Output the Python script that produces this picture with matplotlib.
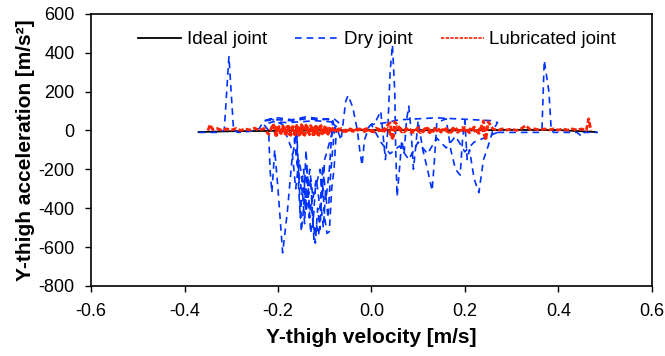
import numpy as np
import matplotlib
matplotlib.use("Agg")
import matplotlib.pyplot as plt

plt.rcParams["font.family"] = ["Liberation Sans", "DejaVu Sans"]
plt.rcParams["axes.unicode_minus"] = False

# ideal joint: nearly flat line
ideal_v = [-0.37, -0.30, -0.20, -0.10, 0.00, 0.10, 0.20, 0.30, 0.40, 0.48]
ideal_a = [-8, -4, -2, 0, 2, 2, 0, 3, 2, -8]

# dry joint trajectory
dry_v = [-0.37, -0.33, -0.315, -0.305, -0.295, -0.285, -0.26, -0.24, -0.23, -0.20,
         -0.17, -0.14, -0.11, -0.08, -0.07, -0.09, -0.12, -0.15, -0.18, -0.21,
         -0.23, -0.22, -0.217, -0.213, -0.207, -0.20, -0.19, -0.18, -0.17, -0.16,
         -0.155, -0.15, -0.145, -0.14, -0.135, -0.13, -0.125, -0.12, -0.115, -0.11,
         -0.105, -0.10, -0.095, -0.09, -0.085, -0.08, -0.075, -0.08, -0.10, -0.105,
         -0.11, -0.12, -0.125, -0.13, -0.14, -0.145, -0.15, -0.16, -0.165, -0.16,
         -0.158, -0.152, -0.148, -0.143, -0.138, -0.133, -0.128, -0.123, -0.118, -0.113,
         -0.108, -0.103, -0.098, -0.093, -0.088, -0.083, -0.078, -0.083, -0.09, -0.097,
         -0.104, -0.11, -0.118, -0.125, -0.132, -0.14, -0.148, -0.155, -0.162, -0.17,
         -0.19, -0.215, -0.23, -0.20, -0.17, -0.14, -0.11, -0.085, -0.08, -0.075,
         -0.065, -0.055, -0.05, -0.04, -0.03, -0.025, -0.02, -0.015, -0.005, 0.01,
         0.02, 0.03, 0.035, 0.04, 0.045, 0.05, 0.052, 0.055, 0.06, 0.065,
         0.07, 0.075, 0.08, 0.085, 0.09, 0.095, 0.10, 0.11, 0.12, 0.13,
         0.135, 0.14, 0.16, 0.17, 0.18, 0.19, 0.195, 0.20, 0.205, 0.21,
         0.22, 0.23, 0.24, 0.25, 0.26, 0.27, 0.26, 0.22, 0.18, 0.14,
         0.10, 0.06, 0.03, 0.00, 0.02, 0.04, 0.06, 0.08, 0.10, 0.12,
         0.14, 0.16, 0.18, 0.20, 0.22, 0.24, 0.26, 0.27, np.nan,
         0.27, 0.36, 0.365, 0.37, 0.38, 0.385, 0.39, 0.44, 0.45, 0.455,
         0.485]
dry_a = [-10, -10, 0, 380, 0, -10, -5, 10, 50, 55,
         50, 60, 55, 60, 40, 45, 50, 45, 40, 45,
         30, 0, -200, -320, -100, -300, -630, -420, -150, 0,
         -250, -520, -400, -100, -300, -530, -450, -580, -400, -510,
         -250, -450, -530, -520, -300, -200, 0, 20, -150, -350,
         -200, -300, -480, -250, -420, -200, -300, -150, -50, 40,
         -200, -450, -300, -480, -200, -450, -350, -560, -480, -540,
         -380, -500, -320, -450, -250, -100, 30, 50, -200, -350,
         -180, -400, -250, -350, -200, -380, -250, -150, -300, -100,
         30, 60, 50, 65, 55, 70, 60, 55, 30, 20,
         -50, 150, 180, 120, 0, -100, -180, -50, 20, 50,
         100, -150, 0, 300, 440, 200, -100, -340, -200, -50,
         -120, 50, 125, 0, -200, -80, 50, -100, -200, -310,
         -150, 40, 60, -100, -200, -230, -50, 50, -150, -100,
         -250, -320, -150, -80, 0, 40, 50, 55, 60, 65,
         60, 55, 40, 30, -60, -120, -80, -150, -60, -120,
         -40, -90, -30, -110, -60, -40, -20, -10, np.nan,
         -10, -10, 0, 360, 200, 0, -10, -10, -30, -10,
         -10]

# lubricated joint: noisy band around zero
lub_v = [-0.35, -0.345, -0.34, -0.33, -0.32, -0.31, -0.30, -0.29, -0.28, -0.27,
         -0.26, -0.25, -0.24, -0.23, -0.22, -0.21, -0.205, -0.20, -0.195, -0.19,
         -0.185, -0.18, -0.175, -0.17, -0.165, -0.16, -0.155, -0.15, -0.145, -0.14,
         -0.135, -0.13, -0.125, -0.12, -0.115, -0.11, -0.105, -0.10, -0.095, -0.09,
         -0.08, -0.07, -0.06, -0.05, -0.04, -0.03, -0.02, -0.01, 0.00, 0.01,
         0.02, 0.03, 0.04, 0.045, 0.05, 0.06, 0.07, 0.08, 0.09, 0.10,
         0.11, 0.12, 0.13, 0.14, 0.15, 0.16, 0.17, 0.18, 0.19, 0.20,
         0.21, 0.22, 0.23, 0.24, 0.245, 0.25, 0.26, 0.27, 0.28, 0.29,
         0.30, 0.31, 0.32, 0.33, 0.34, 0.35, 0.36, 0.37, 0.38, 0.39,
         0.40, 0.41, 0.42, 0.43, 0.44, 0.45, 0.46, 0.465, 0.47, np.nan,
         0.245, 0.235, 0.225, 0.215, 0.205, 0.195, 0.185, 0.175, 0.165, 0.155,
         0.145, 0.135, 0.125, 0.115, 0.105, 0.095, 0.085, 0.075, 0.065, 0.055,
         0.045, 0.035, 0.025, 0.015, 0.005, -0.005, -0.015, -0.025, -0.035, -0.045,
         -0.055, -0.065, -0.075, -0.085, -0.0925, -0.0975, -0.1025, -0.1075, -0.1125, -0.1175,
         -0.1225, -0.1275, -0.1325, -0.1375, -0.1425, -0.1475, -0.1525, -0.1575, -0.1625, -0.1675,
         -0.1725, -0.1775, -0.1825, -0.1875, -0.1925, -0.1975, -0.2025, -0.2075, -0.215]
lub_a = [0, 30, 5, 10, 0, 8, 2, 10, 0, 8,
         2, 12, 0, 10, -20, 35, -25, 25, -20, 22,
         -18, 20, -22, 18, -20, 25, -25, 30, -22, 28,
         -20, 25, -22, 20, -20, 22, -18, 18, -15, 12,
         -5, 8, -5, 10, -5, 8, 0, 10, -5, 12,
         -10, 15, 40, -50, 45, 15, -8, 12, -10, 15,
         -8, 12, -10, 15, -8, 10, -10, 12, -10, 15,
         -12, 18, -15, 50, -50, 45, 8, 0, 8, 2,
         8, 0, 8, 25, 5, 8, 2, 8, 2, 8,
         2, 8, 2, 8, 2, 8, 0, 60, 0, np.nan,
         -45, 20, -15, 18, -12, 15, -10, 12, -10, 10,
         -12, 10, -12, 10, -12, 8, -10, 10, -8, 20,
         -40, 10, -8, 8, -8, 6, -6, 8, -6, 8,
         -6, 10, -10, 15, -20, 22, -22, 25, -25, 20,
         -22, 25, -22, 20, -25, 22, -20, 25, -22, 20,
         -25, 22, -20, 25, -22, 20, -25, 20, 0]

fig = plt.figure(figsize=(6.65, 3.56), dpi=100)
ax = fig.add_axes([0.137, 0.197, 0.843, 0.764])

ax.plot(ideal_v, ideal_a, "-", color="black", lw=1.3, label="Ideal joint")
ax.plot(dry_v, dry_a, "--", color="#0033ff", lw=1.2, dashes=(4, 3), label="Dry joint")
ax.plot(lub_v, lub_a, "--", color="#ff2200", lw=2.0, dashes=(2, 0.8), label="Lubricated joint")

ax.set_xlim(-0.6, 0.6)
ax.set_ylim(-800, 600)
ax.set_xticks(np.arange(-0.6, 0.61, 0.2))
ax.set_xticklabels(["-0.6", "-0.4", "-0.2", "0.0", "0.2", "0.4", "0.6"])
ax.set_yticks(np.arange(-800, 601, 200))
ax.tick_params(labelsize=13, direction="out", length=4, width=1, pad=8)
for sp in ax.spines.values():
    sp.set_linewidth(1.2)
ax.set_xlabel("Y-thigh velocity [m/s]", fontsize=15, fontweight="bold", labelpad=6)
ax.set_ylabel("Y-thigh acceleration [m/s²]", fontsize=15, fontweight="bold", labelpad=2)
leg = ax.legend(loc="center", bbox_to_anchor=(0.51, 0.905), ncol=3, frameon=False,
                fontsize=13.5, handlelength=2.3, columnspacing=1.5, handletextpad=0.3)
leg.get_lines()[2].set_linewidth(1.2)

fig.savefig("out.png", dpi=100)
